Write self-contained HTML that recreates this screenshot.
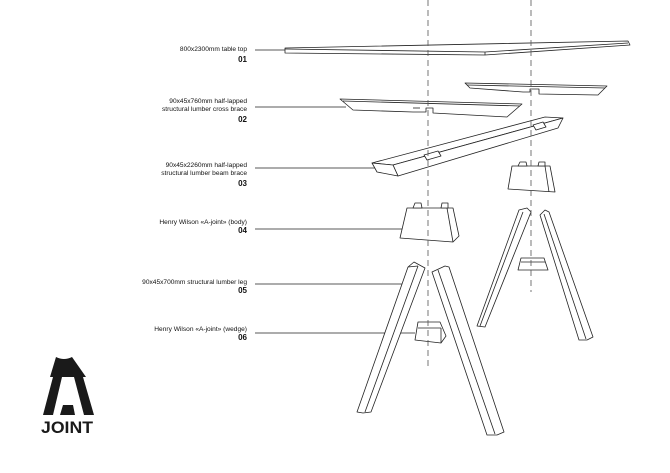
<!DOCTYPE html>
<html><head><meta charset="utf-8"><style>
html,body{margin:0;padding:0;background:#fff;}
svg{display:block;}
.t{font-family:"Liberation Sans",sans-serif;font-size:6.6px;fill:#111;text-anchor:end;}
.n{font-family:"Liberation Sans",sans-serif;font-size:8px;font-weight:bold;fill:#111;text-anchor:end;}
.p{fill:#fff;stroke:#222;stroke-width:0.8;stroke-linejoin:round;}
.l{stroke:#222;stroke-width:0.8;fill:none;}
.d{stroke:#555;stroke-width:0.8;stroke-dasharray:6,4;fill:none;}
</style></head><body>
<svg width="670" height="473" viewBox="0 0 670 473" xmlns="http://www.w3.org/2000/svg">
<text class="t" x="247" y="51">800x2300mm table top</text><text class="n" x="247" y="62">01</text>
<line class="l" x1="255" y1="50" x2="287" y2="50"/>
<text class="t" x="247" y="103">90x45x760mm half-lapped</text>
<text class="t" x="247" y="111">structural lumber cross brace</text><text class="n" x="247" y="122">02</text>
<line class="l" x1="255" y1="107" x2="346" y2="107"/>
<text class="t" x="247" y="167">90x45x2260mm half-lapped</text>
<text class="t" x="247" y="175">structural lumber beam brace</text><text class="n" x="247" y="186">03</text>
<line class="l" x1="255" y1="168" x2="376" y2="168"/>
<text class="t" x="247" y="224">Henry Wilson «A-joint» (body)</text><text class="n" x="247" y="233">04</text>
<line class="l" x1="255" y1="229" x2="405" y2="229"/>
<text class="t" x="247" y="284">90x45x700mm structural lumber leg</text><text class="n" x="247" y="293">05</text>
<line class="l" x1="255" y1="284" x2="410" y2="284"/>
<text class="t" x="247" y="331">Henry Wilson «A-joint» (wedge)</text><text class="n" x="247" y="340">06</text>
<line class="l" x1="255" y1="333" x2="415" y2="333"/>

<polygon class="p" points="519,210 527,208 531,212 485,327 477,326"/>
<line class="l" x1="523" y1="212" x2="480" y2="326"/>
<polygon class="p" points="540,215 545,210 549,212 593,337 587,340 579,340"/>
<line class="l" x1="544" y1="214" x2="586" y2="339"/>
<polygon class="p" points="521,258 544,258 548,270 518,270"/>
<line class="l" x1="521" y1="262" x2="545" y2="262"/>
<polygon class="p" points="512,166 550,166 555,192 508,189"/>
<line class="l" x1="545" y1="166" x2="549" y2="192"/>
<polygon class="p" points="518,166 520,162 526,162 527,166"/>
<polygon class="p" points="538,166 539,162 545,162 545,166"/>

<polygon class="p" points="285,48 628,41 630,45 485,55 285,53"/>
<line class="l" x1="285" y1="49" x2="485" y2="52"/>
<line class="l" x1="485" y1="52" x2="628" y2="43"/>
<line class="l" x1="485" y1="52" x2="485" y2="55"/>
<polygon class="p" points="465,83 607,86 598,95 539,94 539,89 530,89 530,92 523,92 470,88"/>
<line class="l" x1="467" y1="85" x2="605" y2="88"/>
<polygon class="p" points="340,99 522,104 507,117 433,113 433,108 426,108 426,112 413,112 353,110"/>
<line class="l" x1="343" y1="101" x2="520" y2="106"/>
<line class="l" x1="413" y1="108" x2="420" y2="108"/>
<polygon class="p" points="372,163 545,117 563,118 393,165"/>
<polygon class="p" points="393,165 563,118 558,128 398,176"/>
<polygon class="p" points="372,163 393,165 398,176 377,172"/>
<polygon class="p" points="424,155 438,151 441,156 427,160"/>
<polygon class="p" points="533,125 543,122 546,127 536,130"/>

<polygon class="p" points="407,208 453,208 459,236 453,242 400,238"/>
<line class="l" x1="447" y1="208" x2="453" y2="242"/>
<polygon class="p" points="413,208 415,203 421,203 422,208"/>
<polygon class="p" points="441,208 442,203 448,203 448,208"/>

<polygon class="p" points="408,267 414,262 425,268 371,412 363,413 357,412"/>
<line class="l" x1="418" y1="266" x2="365" y2="412"/>
<line class="l" x1="408" y1="267" x2="418" y2="266"/>
<polygon class="p" points="418,322 440,322 446,336 441,343 415,340"/>
<line class="l" x1="418" y1="328" x2="441" y2="328"/>
<line class="l" x1="441" y1="328" x2="441" y2="343"/>
<polygon class="p" points="432,272 445,266 449,267 504,432 497,435 487,435"/>
<line class="l" x1="438" y1="270" x2="495" y2="434"/>

<line class="d" x1="428" y1="0" x2="428" y2="367"/>
<line class="d" x1="531" y1="0" x2="531" y2="292"/>

<path d="M56,357 Q64,361 72,357 L86,377 L50,377 Z" fill="#1a1a1a"/>
<polygon points="53,377 62,377 53,415 43,415" fill="#1a1a1a"/>
<polygon points="74,377 83,377 94,415 84,415" fill="#1a1a1a"/>
<polygon points="63,405 73,405 75,415 60,415" fill="#1a1a1a"/>
<text x="67" y="433" font-family="Liberation Sans,sans-serif" font-size="17" font-weight="bold" text-anchor="middle" fill="#1a1a1a" textLength="52" lengthAdjust="spacingAndGlyphs">JOINT</text>
</svg>
</body></html>
